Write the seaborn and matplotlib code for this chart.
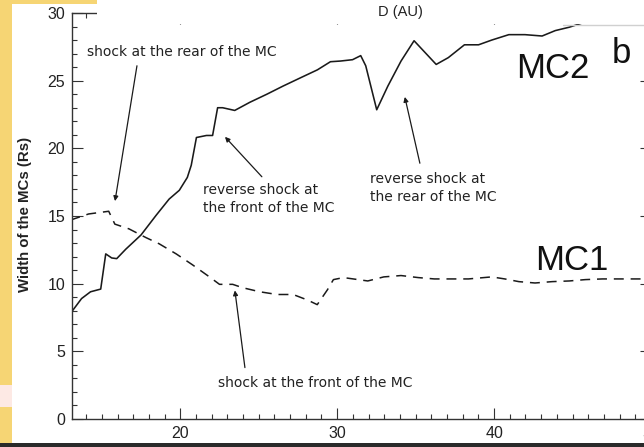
import matplotlib
matplotlib.use("Agg")
import matplotlib.pyplot as plt
from matplotlib import font_manager
from matplotlib.patches import Rectangle
from matplotlib.lines import Line2D
from matplotlib.ticker import MultipleLocator
import numpy as np
import pandas as pd
import seaborn as sns

# ---------------- data ----------------
mc2_d = [13.0, 13.71, 14.28, 14.93, 15.25, 15.63, 15.95, 16.53, 17.5, 18.46,
         19.29, 19.94, 20.45, 20.7, 21.03, 21.67, 22.06, 22.38, 22.7, 23.47,
         24.43, 25.52, 26.55, 27.64, 28.74, 29.57, 30.21, 30.98, 31.5, 31.82,
         32.52, 33.23, 34.07, 34.9, 36.31, 37.08, 38.11, 39.01, 39.85, 40.94,
         41.97, 43.06, 43.9, 44.79, 46.0]
mc2_w = [7.8, 8.9, 9.4, 9.6, 12.2, 11.9, 11.85, 12.55, 13.6, 15.05,
         16.25, 16.9, 17.85, 18.75, 20.8, 20.95, 20.95, 23.0, 23.0, 22.8,
         23.4, 24.0, 24.6, 25.2, 25.8, 26.4, 26.45, 26.55, 26.85, 26.1,
         22.85, 24.6, 26.45, 27.95, 26.2, 26.7, 27.65, 27.65, 28.0, 28.4,
         28.4, 28.3, 28.7, 28.95, 29.4]

mc1_d = [13.0, 14.16, 15.44, 15.83, 16.73, 17.82, 18.65, 19.74, 20.77, 21.86,
         22.5, 23.34, 23.98, 25.07, 26.17, 27.19, 28.09, 28.73, 29.38, 29.76,
         30.4, 31.95, 32.97, 34.07, 35.16, 36.19, 37.28, 38.37, 39.85, 40.68,
         41.58, 42.61, 43.7, 44.79, 45.82, 46.91, 48.0, 50.0]
mc1_w = [14.7, 15.15, 15.35, 14.4, 14.05, 13.4, 12.95, 12.2, 11.4, 10.5,
         9.95, 9.95, 9.7, 9.4, 9.2, 9.2, 8.8, 8.45, 9.55, 10.3,
         10.45, 10.2, 10.5, 10.6, 10.45, 10.35, 10.35, 10.35, 10.5, 10.35,
         10.15, 10.05, 10.15, 10.2, 10.3, 10.35, 10.35, 10.35]

x_ticks = [20, 30, 40, 50]
y_ticks = [0, 5, 10, 15, 20, 25, 30]
x_label = "D (AU)"
y_label = "Width of the MCs (Rs)"
series_names = ["MC1", "MC2"]
panel_letter = "b"
notes = ["shock at the rear of the MC",
         "reverse shock at\nthe front of the MC",
         "reverse shock at\nthe rear of the MC",
         "shock at the front of the MC"]

# ---------------- style ----------------
sns.set_style("ticks")


def pick(names):
    for n in names:
        try:
            font_manager.findfont(n, fallback_to_default=False)
            return n
        except Exception:
            pass
    return "DejaVu Sans"


SANS = pick(["Liberation Sans", "DejaVu Sans"])
plt.rcParams["font.family"] = [SANS, "DejaVu Sans"]

INK = "#222222"
W, H = 644, 447
fig = plt.figure(figsize=(W / 100, H / 100), dpi=100)
fig.patch.set_facecolor("white")

# axes box: x=13.1 at px 72, x=50 at px 651; y=0 at px 419, y=30 at px 13
x0, x1, y0, y1 = 72, 651, 419, 13
ax = fig.add_axes([x0 / W, (H - y0) / H, (x1 - x0) / W, (y0 - y1) / H])
ax.set_facecolor("white")

df1 = pd.DataFrame({"D": mc1_d, "W": mc1_w})
df2 = pd.DataFrame({"D": mc2_d, "W": mc2_w})
sns.lineplot(data=df2, x="D", y="W", ax=ax, color="#1a1a1a", lw=1.15,
             estimator=None, sort=False)
sns.lineplot(data=df1, x="D", y="W", ax=ax, color="#1a1a1a", lw=1.1,
             estimator=None, sort=False, linestyle=(0, (6.5, 4.5)))

ax.set_xlim(13.1, 50)
ax.set_ylim(0, 30)
ax.set_xticks(x_ticks)
ax.set_yticks(y_ticks)
ax.xaxis.set_minor_locator(MultipleLocator(1))
ax.yaxis.set_minor_locator(MultipleLocator(1))
ax.tick_params(which="both", direction="in", top=True, right=True,
               color="#333333", width=0.8, labelcolor=INK)
ax.tick_params(which="major", length=8, pad=5, labelsize=11.5)
ax.tick_params(which="minor", length=3.5)
for s in ax.spines.values():
    s.set_linewidth(1.0)
    s.set_color("#333333")

ax.set_xlabel("")
ax.set_ylabel(y_label, fontsize=10.8, color=INK, fontweight="bold")
ax.yaxis.set_label_coords(-0.069, 0.505)

# annotations
arrow = dict(arrowstyle="-|>", color="#1a1a1a", lw=0.9, mutation_scale=7,
             shrinkA=0, shrinkB=0)
tkw = dict(fontsize=10, color=INK, ha="left", va="center", linespacing=1.3,
           family=["DejaVu Sans"])
ax.annotate("", xy=(15.84, 16.1), xytext=(17.24, 26.1), arrowprops=arrow)
ax.text(14.06, 27.12, notes[0], **tkw)
ax.annotate("", xy=(22.85, 20.85), xytext=(25.2, 17.9), arrowprops=arrow)
ax.text(21.44, 16.26, notes[1], **tkw)
ax.annotate("", xy=(34.31, 23.8), xytext=(35.27, 18.9), arrowprops=arrow)
ax.text(32.08, 17.07, notes[2], **tkw)
ax.annotate("", xy=(23.48, 9.5), xytext=(24.12, 3.8), arrowprops=arrow)
ax.text(22.4, 2.65, notes[3], **tkw)

# series labels and panel letter
lkw = dict(fontsize=25, color="#111111", ha="center", va="baseline",
           family=[SANS, "DejaVu Sans"])
ax.text(43.74, 25.2, series_names[1], **lkw)
ax.text(44.95, 11.0, series_names[0], **lkw)
ax.text(48.13, 26.3, panel_letter, **lkw)

# ---------------- screenshot surroundings ----------------
def fx(px):
    return px / W


def fy(py):
    return 1 - py / H


# white strip at the top (remains of the panel above)
fig.add_artist(Rectangle((fx(97), fy(24)), fx(W) - fx(97), 1 - fy(24),
                         transform=fig.transFigure, facecolor="white",
                         edgecolor="none", zorder=5))
fig.add_artist(Line2D([fx(563), 1], [fy(24.5), fy(24.5)],
                      transform=fig.transFigure, color="#d0d0d0", lw=1.0,
                      zorder=6))
fig.text(fx(400), fy(12), x_label, fontsize=10.5, color=INK, ha="center",
         va="center", zorder=7, family=[SANS, "DejaVu Sans"])

# yellow strips at the left and top-left
YEL = "#f6d574"
fig.add_artist(Rectangle((0, 0), fx(12), 1, transform=fig.transFigure,
                         facecolor=YEL, edgecolor="none", zorder=8))
fig.add_artist(Rectangle((0, fy(4)), fx(97), 1 - fy(4),
                         transform=fig.transFigure, facecolor=YEL,
                         edgecolor="none", zorder=8))
fig.add_artist(Rectangle((0, fy(407)), fx(12), fy(385) - fy(407),
                         transform=fig.transFigure, facecolor="#fde9e4",
                         edgecolor="none", zorder=9))
# dark bottom edge
fig.add_artist(Rectangle((0, 0), 1, fy(443), transform=fig.transFigure,
                         facecolor="#2a2a2a", edgecolor="none", zorder=10))

fig.savefig("out.png", dpi=100)
